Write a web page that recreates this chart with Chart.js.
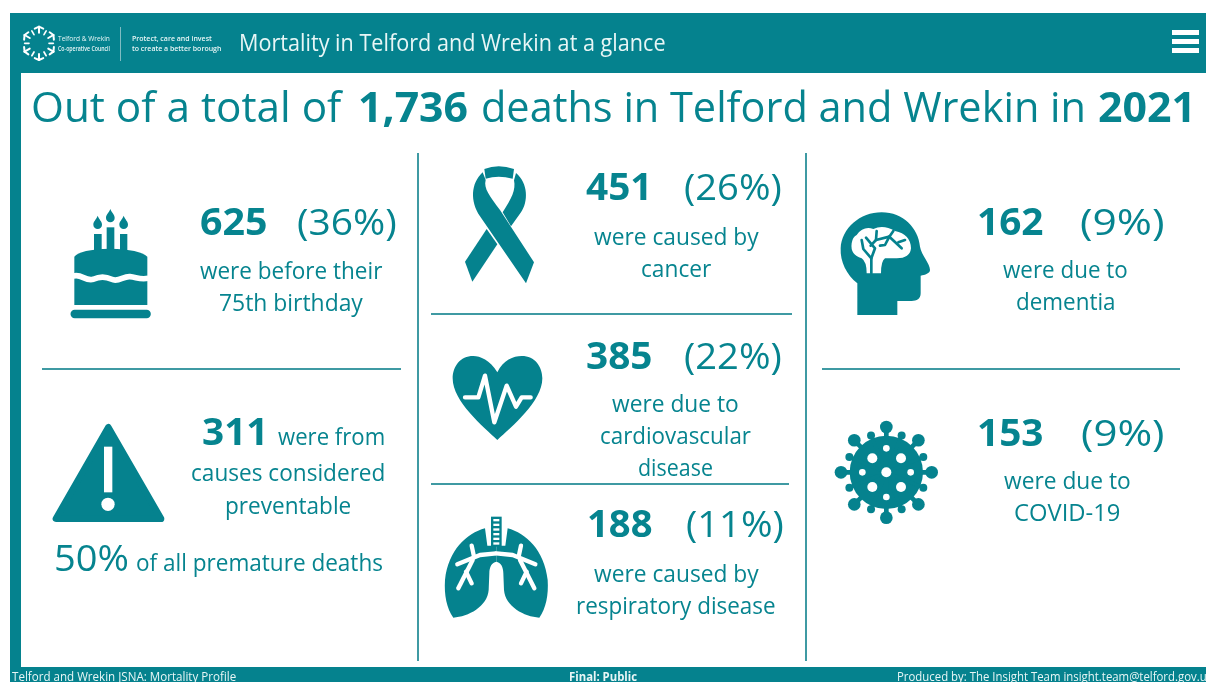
<!DOCTYPE html>
<html>
<head>
<meta charset="utf-8">
<title>Mortality in Telford and Wrekin at a glance</title>
<script src="https://cdn.jsdelivr.net/npm/chart.js@4"></script>
<style>
    html, body { margin: 0; padding: 0; background: #fff; overflow: hidden; }
    #page { position: relative; width: 1206px; height: 682px; overflow: hidden; font-family: "Open Sans", sans-serif; color: #06848f; filter: blur(0.4px); }
    #mortality-chart { position: absolute; left: 0; top: 0; }
    .txt { position: absolute; white-space: nowrap; line-height: 1; transform-origin: left center; }
</style>
</head>
<body>
<div id="page">
    <canvas id="mortality-chart" width="1206" height="682"></canvas>
</div>
<script>
// Values
const totalDeaths = '1,736';
const reportYear = '2021';
const causes = ['Before 75th birthday', 'Preventable', 'Cancer', 'Cardiovascular disease', 'Respiratory disease', 'Dementia', 'COVID-19'];
const deaths = [625, 311, 451, 385, 188, 162, 153];
const shares = [36, 50, 26, 22, 11, 9, 9];

const TEAL = '#05828e';
const RULE = '#3f9aa3';

// Frame, rules and pictograms. Icon paths are in zoomed (3x) pixels from an origin
function icon(ctx, ox, oy, draw) {
    ctx.save();
    ctx.translate(ox, oy);
    ctx.scale(1 / 3, 1 / 3);
    ctx.fillStyle = TEAL;
    ctx.strokeStyle = TEAL;
    ctx.lineCap = 'round';
    ctx.lineJoin = 'round';
    draw(ctx);
    ctx.restore();
}

function strokeLine(ctx, points, width, colour) {
    ctx.beginPath();
    points.forEach((p, i) => i ? ctx.lineTo(p[0], p[1]) : ctx.moveTo(p[0], p[1]));
    ctx.lineWidth = width;
    ctx.strokeStyle = colour;
    ctx.stroke();
}

function drawCake(ctx) {
    ctx.fillRect(162, 132, 23, 50);
    ctx.fillRect(200, 112, 23, 70);
    ctx.fillRect(240, 132, 22, 50);
    [[173, 114], [211, 94], [251, 114]].forEach(f => {
        ctx.beginPath();
        ctx.moveTo(f[0], f[1] - 37);
        ctx.bezierCurveTo(f[0] + 5, f[1] - 24, f[0] + 13, f[1] - 20, f[0] + 13, f[1] - 10);
        ctx.arc(f[0], f[1] - 10, 13, 0, Math.PI);
        ctx.bezierCurveTo(f[0] - 13, f[1] - 20, f[0] - 5, f[1] - 24, f[0], f[1] - 37);
        ctx.fill();
    });
    ctx.beginPath();
    ctx.moveTo(103, 200);
    ctx.quadraticCurveTo(120, 178, 210, 176);
    ctx.quadraticCurveTo(300, 178, 322, 200);
    ctx.lineTo(322, 345);
    ctx.lineTo(103, 345);
    ctx.closePath();
    ctx.fill();
    ctx.beginPath();
    ctx.moveTo(100, 258);
    ctx.bezierCurveTo(125, 250, 135, 275, 160, 268);
    ctx.bezierCurveTo(180, 258, 195, 258, 215, 268);
    ctx.bezierCurveTo(235, 278, 250, 258, 270, 260);
    ctx.bezierCurveTo(290, 262, 300, 270, 325, 265);
    ctx.lineWidth = 17;
    ctx.strokeStyle = '#fff';
    ctx.lineCap = 'butt';
    ctx.stroke();
    ctx.lineCap = 'round';
    strokeLine(ctx, [[104, 372], [320, 372]], 25, TEAL);
}

function drawWarning(ctx) {
    ctx.beginPath();
    ctx.moveTo(235, 52);
    ctx.lineTo(78, 326);
    ctx.lineTo(393, 326);
    ctx.closePath();
    ctx.lineWidth = 20;
    ctx.fill();
    ctx.stroke();
    ctx.fillStyle = '#fff';
    ctx.fillRect(222, 110, 25, 137);
    ctx.beginPath();
    ctx.arc(234, 283, 20, 0, Math.PI * 2);
    ctx.fill();
}

function drawRibbon(ctx) {
    ctx.fill(new Path2D('M128,52 C92,85 90,140 120,184 L258,385 L282,322 L180,165 C150,125 130,100 137,75 Z'));
    ctx.fill(new Path2D('M228,54 C265,85 265,140 243,172 L213,214 L188,172 C215,130 228,105 222,76 Z'));
    ctx.fill(new Path2D('M140,222 L75,320 L97,380 L172,268 Z'));
    ctx.fill(new Path2D('M137,71 L133,42 Q175,26 222,42 L218,71 Q175,60 137,71 Z'));
}

function drawHeart(ctx) {
    ctx.fill(new Path2D('M172,82 C150,45 120,33 100,33 C60,33 38,65 38,100 C38,170 130,245 172,285 C215,245 307,170 307,100 C307,65 285,33 245,33 C220,33 190,45 172,82 Z'));
    strokeLine(ctx, [[75, 157], [115, 157], [135, 92], [163, 232], [200, 122], [228, 185], [245, 157], [272, 157]], 13, '#fff');
}

function drawLungs(ctx) {
    ctx.fillRect(183, 35, 32, 90);
    ctx.fillStyle = '#fff';
    for (let y = 42; y < 118; y += 14) ctx.fillRect(190, y, 18, 7);
    ctx.fillStyle = TEAL;
    const lung = new Path2D('M165,70 C110,85 55,135 45,225 C42,270 50,310 70,338 C115,335 172,305 176,255 L178,205 C178,185 186,172 199,170 L199,122 L172,122 Z');
    ctx.fill(lung);
    const branches = [
        [[199, 145], [150, 150], [82, 178]],
        [[132, 155], [125, 122]],
        [[128, 165], [85, 250]],
        [[108, 200], [125, 235]]
    ];
    branches.forEach(b => strokeLine(ctx, b, 13, '#fff'));
    ctx.save();
    ctx.translate(398, 0);
    ctx.scale(-1, 1);
    ctx.fill(lung);
    branches.forEach(b => strokeLine(ctx, b, 13, '#fff'));
    ctx.restore();
}

function drawHead(ctx) {
    ctx.fill(new Path2D('M82,330 L82,235 C50,210 30,170 32,130 C35,70 90,22 155,22 C220,22 265,70 270,125 C274,150 300,175 300,195 C300,205 285,210 272,212 L272,265 C272,282 260,288 245,288 L202,288 L202,330 Z'));
    ctx.fillStyle = '#fff';
    ctx.fill(new Path2D('M80,90 Q100,62 130,72 Q160,58 195,78 Q242,88 243,130 Q240,160 200,160 L165,160 Q153,168 153,205 L110,205 Q110,170 95,160 Q60,150 65,115 Q68,95 80,90 Z'));
    const veins = [
        [[124, 205], [124, 160], [100, 132], [95, 105]],
        [[124, 160], [135, 130], [108, 98]],
        [[122, 122], [138, 105], [140, 78]],
        [[138, 105], [178, 95], [215, 130]],
        [[178, 95], [190, 78]],
        [[178, 95], [165, 120], [150, 122]],
        [[205, 112], [225, 105]]
    ];
    veins.forEach(v => strokeLine(ctx, v, 8, TEAL));
}

function drawVirus(ctx) {
    const cx = 184, cy = 172;
    ctx.beginPath();
    ctx.arc(cx, cy, 110, 0, Math.PI * 2);
    ctx.fill();
    for (let i = 0; i < 16; i++) {
        const a = i * Math.PI / 8;
        const big = i % 2 === 0;
        const r = big ? 136 : 120;
        const x = cx + Math.cos(a) * r, y = cy + Math.sin(a) * r;
        strokeLine(ctx, [[cx, cy], [x, y]], big ? 14 : 11, TEAL);
        ctx.beginPath();
        ctx.arc(x, y, big ? 19 : 12, 0, Math.PI * 2);
        ctx.fill();
    }
    ctx.fillStyle = '#fff';
    [[184, 172, 15], [142, 130, 15], [228, 130, 15], [142, 216, 15], [228, 216, 15], [184, 100, 10], [184, 246, 10], [112, 172, 10], [257, 172, 10]].forEach(d => {
        ctx.beginPath();
        ctx.arc(d[0], d[1], d[2], 0, Math.PI * 2);
        ctx.fill();
    });
}

function drawLogo(ctx) {
    const cx = 117, cy = 130;
    for (let i = 0; i < 6; i++) {
        const a = i * Math.PI / 3 - Math.PI / 2;
        const b = a + Math.PI / 3;
        const m = (a + b) / 2;
        const c = Math.cos, s = Math.sin;
        strokeLine(ctx, [[cx + c(a) * 50, cy + s(a) * 50], [cx + c(a + .28) * 46, cy + s(a + .28) * 46]], 6, '#fff');
        strokeLine(ctx, [[cx + c(b) * 50, cy + s(b) * 50], [cx + c(b - .28) * 46, cy + s(b - .28) * 46]], 6, '#fff');
        strokeLine(ctx, [[cx + c(a) * 50, cy + s(a) * 50], [cx + c(a) * 32, cy + s(a) * 32]], 6, '#fff');
        strokeLine(ctx, [[cx + c(m) * 43, cy + s(m) * 43], [cx + c(m) * 30, cy + s(m) * 30]], 5, '#fff');
    }
}

const infographic = {
    id: 'infographic',
    beforeDraw(chart) {
        const ctx = chart.ctx;
        ctx.save();
        ctx.fillStyle = '#fff';
        ctx.fillRect(0, 0, 1206, 682);
        ctx.fillStyle = TEAL;
        ctx.fillRect(10, 13, 1196, 669);
        ctx.fillStyle = '#fff';
        ctx.fillRect(21, 73, 1185, 594);

        ctx.fillStyle = RULE;
        ctx.fillRect(417, 153, 2, 508);
        ctx.fillRect(805, 153, 2, 508);
        ctx.fillRect(42, 368, 359, 2);
        ctx.fillRect(431, 313, 361, 2);
        ctx.fillRect(431, 483, 358, 2);
        ctx.fillRect(822, 368, 358, 2);

        // header logo rule and menu button
        ctx.fillStyle = '#7fbcc2';
        ctx.fillRect(120, 27, 1, 34);
        ctx.fillStyle = '#fff';
        ctx.fillRect(1172, 30, 27, 5);
        ctx.fillRect(1172, 39, 27, 5);
        ctx.fillRect(1172, 48, 27, 5);

        icon(ctx, 0, 0, drawLogo);
        icon(ctx, 40, 190, drawCake);
        icon(ctx, 30, 410, drawWarning);
        icon(ctx, 440, 155, drawRibbon);
        icon(ctx, 440, 345, drawHeart);
        icon(ctx, 430, 505, drawLungs);
        icon(ctx, 830, 205, drawHead);
        icon(ctx, 825, 415, drawVirus);
        ctx.restore();
    }
};

new Chart(document.getElementById('mortality-chart').getContext('2d'), {
    type: 'bar',
    data: {
        labels: causes,
        datasets: [{ label: 'Deaths', data: deaths, hidden: true }]
    },
    options: {
        responsive: false,
        animation: false,
        events: [],
        scales: { x: { display: false }, y: { display: false } },
        plugins: { legend: { display: false }, tooltip: { enabled: false } }
    },
    plugins: [infographic]
});

// Text: left edge, width to fit, vertical centre, size, extra style
function put(html, x, w, y, size, style) {
    const el = document.createElement('div');
    el.className = 'txt';
    el.innerHTML = html;
    el.style.left = x + 'px';
    el.style.top = (y - size / 2) + 'px';
    el.style.fontSize = size + 'px';
    if (style) Object.assign(el.style, style);
    document.getElementById('page').appendChild(el);
    el.style.transform = 'scaleX(' + (w / el.offsetWidth) + ')';
}

const bold = { fontWeight: 700 };
const white = { color: '#e8f6f6' };

put('Telford &amp; Wrekin', 58, 52, 38, 8, white);
put('Co-operative Council', 58, 52, 48, 7, Object.assign({ fontWeight: 600 }, white));
put('Protect, care and invest', 132, 80, 38, 7, Object.assign({ fontWeight: 600 }, white));
put('to create a better borough', 132, 89, 48, 7, Object.assign({ fontWeight: 600 }, white));
put('Mortality in Telford and Wrekin at a glance', 239, 427, 42, 24, white);

put('Out of a total of', 31, 310, 106, 42);
put(totalDeaths, 358, 110, 106, 42, bold);
put('deaths in Telford and Wrekin in', 481, 605, 106, 42);
put(reportYear, 1098, 98, 106, 42, bold);

// before 75
put(deaths[0], 200, 67, 220, 37, bold);
put('(' + shares[0] + '%)', 297, 100, 220, 37);
put('were before their', 200, 182, 270, 24);
put('75th birthday', 219, 144, 302, 24);

// preventable
put(deaths[1], 202, 66, 430, 37, bold);
put('were from', 278, 107, 436, 24);
put('causes considered', 191, 194, 472, 24);
put('preventable', 225, 126, 505, 24);
put(shares[1] + '%', 54, 75, 556, 37);
put('of all premature deaths', 136, 247, 562, 24);

// cancer
put(deaths[2], 586, 66, 185, 37, bold);
put('(' + shares[2] + '%)', 684, 98, 185, 37);
put('were caused by', 594, 165, 236, 24);
put('cancer', 641, 70, 268, 24);

// cardiovascular
put(deaths[3], 586, 66, 354, 37, bold);
put('(' + shares[3] + '%)', 684, 98, 354, 37);
put('were due to', 612, 127, 403, 24);
put('cardiovascular', 600, 151, 435, 24);
put('disease', 638, 75, 467, 24);

// respiratory
put(deaths[4], 587, 65, 522, 37, bold);
put('(' + shares[4] + '%)', 686, 98, 522, 37);
put('were caused by', 594, 165, 573, 24);
put('respiratory disease', 576, 200, 605, 24);

// dementia
put(deaths[5], 977, 66, 220, 37, bold);
put('(' + shares[5] + '%)', 1080, 85, 220, 37);
put('were due to', 1003, 125, 269, 24);
put('dementia', 1016, 100, 301, 24);

// covid
put(deaths[6], 977, 66, 431, 37, bold);
put('(' + shares[6] + '%)', 1081, 84, 431, 37);
put('were due to', 1004, 127, 480, 24);
put('COVID-19', 1014, 106, 512, 24);

// footer
put('Telford and Wrekin JSNA: Mortality Profile', 12, 224, 677, 12, white);
put('Final: Public', 569, 68, 677, 12, Object.assign({ fontWeight: 700 }, white));
put('Produced by: The Insight Team insight.team@telford.gov.uk', 897, 316, 677, 12, white);
</script>
</body>
</html>
